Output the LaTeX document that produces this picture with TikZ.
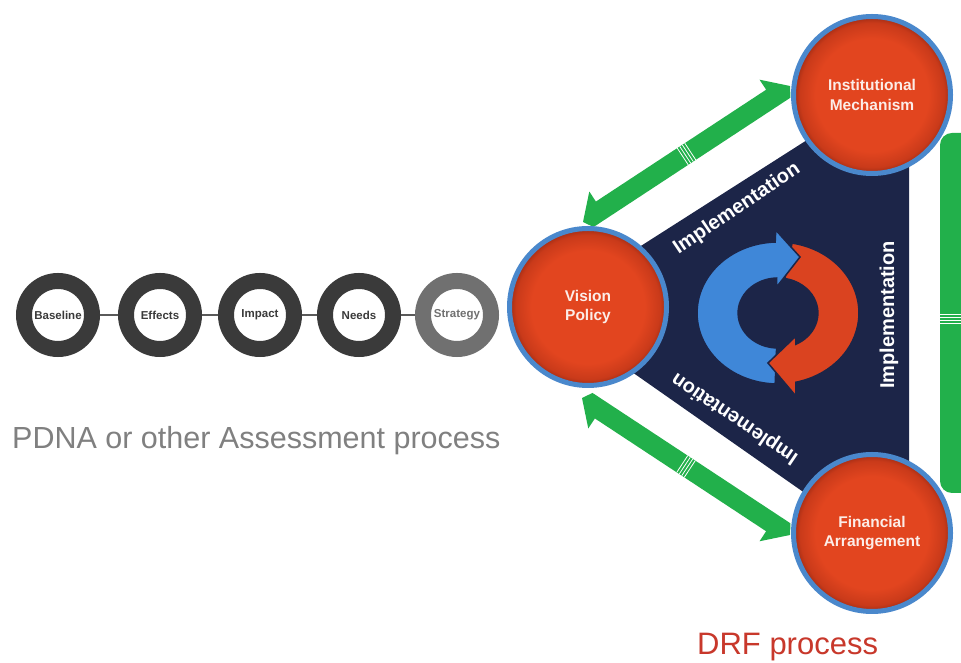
\documentclass[tikz,border=0pt]{standalone}
\usepackage{fontspec}
\setmainfont{Liberation Sans}
\usetikzlibrary{calc}
\definecolor{navy}{HTML}{1C2548}
\definecolor{ringblue}{HTML}{4A88CC}
\definecolor{redA}{HTML}{E2451F}
\definecolor{redB}{HTML}{C93A1A}
\definecolor{redC}{HTML}{A02C14}
\definecolor{gar}{HTML}{22B04B}
\definecolor{iconblue}{HTML}{3F87D8}
\definecolor{iconred}{HTML}{DA4320}
\definecolor{ringgray}{HTML}{3A3A3A}
\definecolor{ringgrayl}{HTML}{707070}
\definecolor{ringtext}{HTML}{3A3A3A}
\definecolor{chaingray}{HTML}{5A5A5A}
\definecolor{txtgray}{HTML}{808080}
\definecolor{drfred}{HTML}{C8382B}
\definecolor{circtext}{HTML}{FCEDE8}
\pgfdeclareradialshading{ballred}{\pgfpoint{0bp}{0bp}}{color(0bp)=(redA); color(18bp)=(redA); color(23bp)=(redB); color(25bp)=(redC); color(50bp)=(redC)}
\tikzset{
  bigcirc/.style={circle, shade, shading=ballred, draw=ringblue, line width=5pt,
    minimum size=157pt, inner sep=0pt, align=center, text=circtext,
    font=\bfseries\fontsize{15.5}{19.5}\selectfont},
  pring/.style={circle, draw=ringgray, fill=white, line width=16pt, minimum size=68pt,
    inner sep=0pt, text=ringtext, font=\bfseries\fontsize{11.5}{13}\selectfont},
  impl/.style={text=white, inner sep=0pt, font=\bfseries\fontsize{20}{24}\selectfont},
  garrow/.style={fill=gar},
  stripe/.style={draw=white, line width=0.8pt},
  chainline/.style={draw=chaingray, line width=2pt},
  iconpart/.style={draw=navy, line width=1.5pt},
}
\newcommand\greenarrow[4]{%
  \coordinate (#1h) at ($(#1)!22pt!(#2)$);
  \coordinate (#2h) at ($(#2)!22pt!(#1)$);
  \coordinate (#1k) at ($(#1)!6pt!(#2)$);
  \coordinate (#2k) at ($(#2)!6pt!(#1)$);
  \coordinate (#1m) at ($(#1)!0.5!(#2)$);
  \fill[garrow] (#1)
    -- ($(#1h)!22pt!#3:(#2)$)
    -- ($(#1h)!10pt!#3:(#2)$)
    -- ($(#2h)!10pt!#3:(#2)$)
    -- ($(#2h)!22pt!#3:(#2)$)
    -- (#2)
    -- ($(#2k)!10pt!#4:(#2)$)
    -- ($(#1k)!10pt!#4:(#2)$)
    -- cycle;
  \foreach \o in {-4.5,-1.5,1.5,4.5}{
    \coordinate (#1q) at ($(#1m)!\o pt!(#2)$);
    \draw[stripe] ($(#1q)!10pt!90:(#2)$) -- ($(#1q)!10pt!-90:(#2)$);
  }%
}
\begin{document}
\begin{tikzpicture}[x=1pt,y=1pt]
\useasboundingbox (0,0) rectangle (961,663);
\clip (0,0) rectangle (961,663);
\fill[white] (0,0) rectangle (961,663);

% navy triangle
\fill[navy] (542,354) -- (909,588) -- (909,97) -- cycle;

% right green bar (continues beyond the right edge)
\fill[gar, rounded corners=12pt] (940,170) rectangle (990,530);
\foreach \yy in {340,343,346,349} \draw[stripe] (940,\yy) -- (961,\yy);

% green arrows
\coordinate (s1) at (583,441);
\coordinate (e1) at (790,577);
\coordinate (s2) at (582,265);
\coordinate (e2) at (790,128);
\greenarrow{s1}{e1}{90}{-90}
\greenarrow{s2}{e2}{-90}{90}

% circular arrows icon
\begin{scope}[shift={(778,350)}, xscale=1.14]
  \filldraw[iconred, iconpart] (80:71) arc[start angle=80, end angle=-78, radius=71]
     -- (14.9,-82) -- (-8.8,-50) -- (14.9,-24) -- (-64.8:35)
     arc[start angle=-64.8, end angle=80, radius=35] -- cycle;
  \filldraw[iconblue, iconpart] (268:71) arc[start angle=268, end angle=92, radius=71]
     -- (-2,83) -- (19.3,56) -- (-1.2,26) -- (92:35)
     arc[start angle=92, end angle=268, radius=35] -- cycle;
  \fill[iconred] (14.9,-82) -- (-8.8,-50) -- (14.9,-24) -- cycle;
  \draw[iconpart] (14.9,-82) -- (-8.8,-50) -- (14.9,-24);
\end{scope}

% Implementation labels
\node[impl, rotate=34] (t1) at (737,454) {Implementation};
\node[impl, rotate=90] (t2) at (889,348) {Implementation};
\node[impl, rotate=146] (t3) at (735,245) {Implementation};

% big circles
\node[bigcirc] (vp) at (588,356) {Vision\\Policy};
\node[bigcirc] (im) at (872,568) {Institutional\\Mechanism};
\node[bigcirc] (fa) at (872,130) {Financial\\Arrangement};

% assessment chain
\node[pring] (r1) at (58,348) {Baseline};
\node[pring] (r2) at (160,348) {Effects};
\node[pring] (r3) at (260,348) {Impact};
\node[pring] (r4) at (359,348) {Needs};
\node[pring, draw=ringgrayl, text=ringgrayl] (r5) at (457,348) {Strategy};
\draw[chainline] (r1) -- (r2);
\draw[chainline] (r2) -- (r3);
\draw[chainline] (r3) -- (r4);
\draw[chainline] (r4) -- (r5);

% captions
\node[anchor=base west, inner sep=0pt, text=txtgray, font=\fontsize{30.5}{36}\selectfont] (pdna) at (12,214) {PDNA or other Assessment process};
\node[anchor=base west, inner sep=0pt, text=drfred, font=\fontsize{31}{36}\selectfont] (drf) at (697,8) {DRF process};
\end{tikzpicture}
\end{document}
